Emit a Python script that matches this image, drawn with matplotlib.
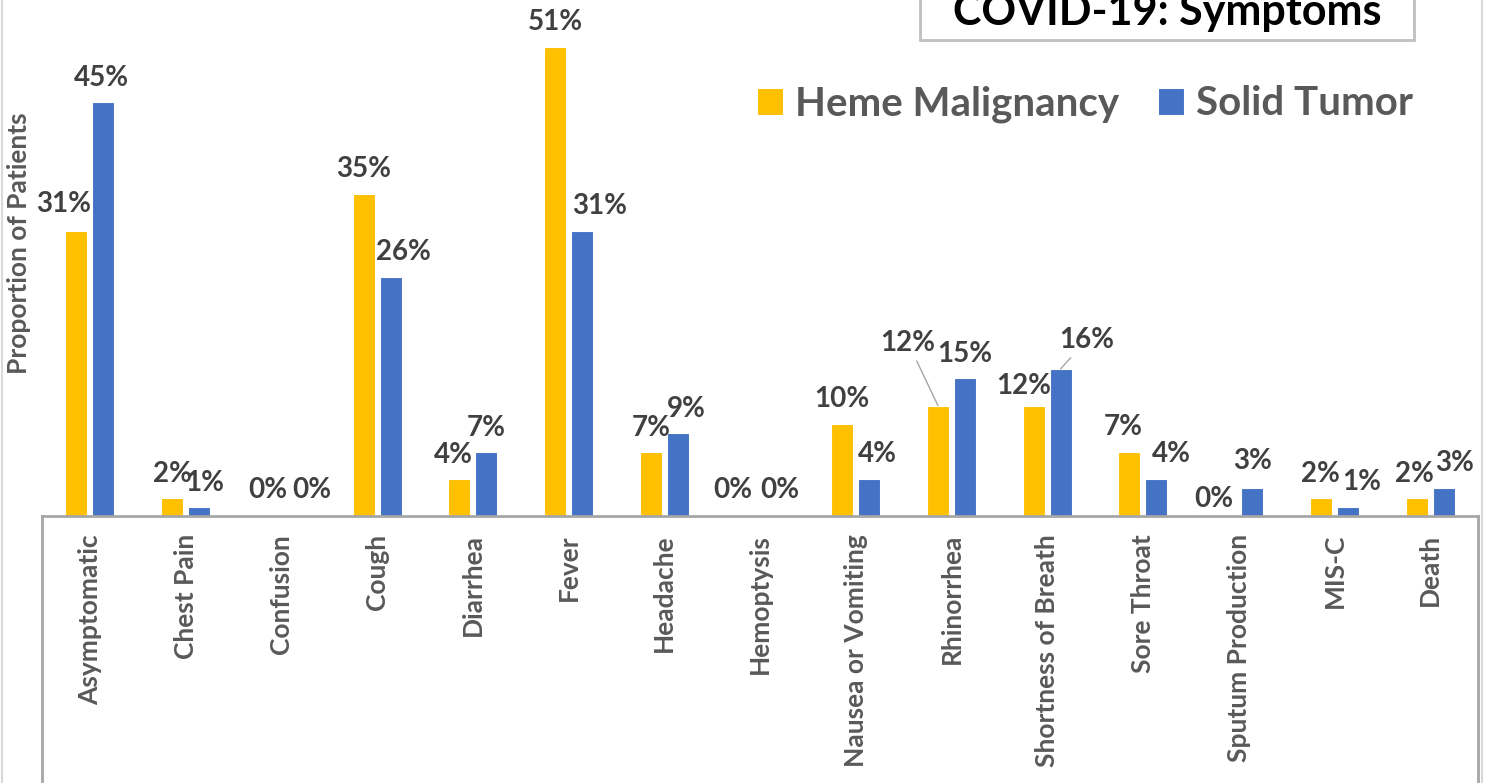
import numpy as np
import matplotlib
matplotlib.use("Agg")
import matplotlib.pyplot as plt
from matplotlib.lines import Line2D
from matplotlib.patches import Rectangle

plt.rcParams['font.family'] = ['Lato', 'DejaVu Sans']

# data
symptoms = ["Asymptomatic", "Chest Pain", "Confusion", "Cough", "Diarrhea", "Fever",
            "Headache", "Hemoptysis", "Nausea or Vomiting", "Rhinorrhea",
            "Shortness of Breath", "Sore Throat", "Sputum Production", "MIS-C", "Death"]
heme = [31, 2, 0, 35, 4, 51, 7, 0, 10, 12, 12, 7, 0, 2, 2]
solid = [45, 1, 0, 26, 7, 31, 9, 0, 4, 15, 16, 4, 3, 1, 3]
series_names = ["Heme Malignancy", "Solid Tumor"]

# label nudges in pixels (excel placed them by hand)
heme_dx = [-13, 0, 0, 0, -6, 0, 0, -14, 0, -30, -10, -6, -11, 0, -2]
heme_dy = [19, 16, 18, 17, 16, 17, 16, 18, 17, 55, 12, 17, 9, 16, 16]
solid_dx = [-2, 6, 17, 13, 0, 18, 9, 6, 8, 0, 26, 15, 0, 14, 11]
solid_dy = [16, 16, 18, 17, 16, 17, 16, 18, 17, 16, 21, 17, 19, 17, 17]

W, H = 1491, 783
fig = plt.figure(figsize=(W / 100, H / 100), dpi=100)

# axes placed in pixels
ax_left, ax_right, ax_base = 42, 1478, 516
ax = fig.add_axes([ax_left / W, (H - ax_base) / H, (ax_right - ax_left) / W, ax_base / H])

yellow = "#FFC000"
blue = "#4472C4"
x = np.arange(len(symptoms))
off = 0.141
bw = 0.23
ax.bar(x - off, heme, bw, color=yellow, edgecolor="white", linewidth=0.8, label=series_names[0])
ax.bar(x + off, solid, bw, color=blue, edgecolor="white", linewidth=0.8, label=series_names[1])

ax.set_xlim(-0.5, len(symptoms) - 0.5)
ax.set_ylim(0, ax_base / 9.2)
ax.set_yticks([])
ax.set_xticks(x)
ax.set_xticklabels(symptoms, rotation=90, fontsize=19, fontweight="bold", color="#595959",
                   va="top", ha="center")
ax.tick_params(axis="x", length=0, pad=13)
for s in ["top", "right", "left"]:
    ax.spines[s].set_visible(False)
ax.spines["bottom"].set_color("#A6A6A6")
ax.spines["bottom"].set_linewidth(2)

lab_col = "#404040"
px = 0.72
lead = dict(arrowstyle="-", color="#A6A6A6", lw=1, shrinkA=2, shrinkB=0)
for i in range(len(symptoms)):
    for vals, dxs, dys, xo in [(heme, heme_dx, heme_dy, -off), (solid, solid_dx, solid_dy, off)]:
        v = vals[i]
        kw = {}
        if (vals is heme and i == 9) or (vals is solid and i == 10):
            kw["arrowprops"] = lead
        ax.annotate(f"{v}%", xy=(i + xo, v), xytext=(dxs[i] * px, dys[i] * px),
                    textcoords="offset points", ha="center", va="baseline",
                    fontsize=20, fontweight="bold", color=lab_col, **kw)

# box lines under the category axis and outer frame
for xp in [ax_left, ax_right]:
    fig.add_artist(Line2D([xp / W, xp / W], [0, (H - ax_base) / H], color="#A6A6A6", lw=2))
for xp in [2, 1482]:
    fig.add_artist(Line2D([xp / W, xp / W], [0, 1], color="#D9D9D9", lw=1.5))

fig.text(19 / W, 1 - 243 / H, "Proportion of Patients", rotation=90, ha="center", va="center",
         fontsize=19, fontweight="bold", color="#595959")

# title box, cut at top edge
fig.add_artist(Rectangle((920 / W, 1 - 40 / H), (1414 - 920) / W, 60 / H,
                         transform=fig.transFigure, facecolor="white", edgecolor="#BFBFBF",
                         lw=2, clip_on=False))
fig.text(1167 / W, 1 - 25 / H, "COVID-19: Symptoms", ha="center", va="baseline",
         fontsize=31, fontweight="bold", color="black")

ax.legend(loc="center left", bbox_to_anchor=(741 / W, 1 - 104 / H), bbox_transform=fig.transFigure,
          borderaxespad=0, ncol=2, frameon=False, handlelength=0.65, handleheight=0.65,
          handletextpad=0.3, columnspacing=0.95, labelcolor="#595959",
          prop={"weight": "bold", "size": 29})

fig.savefig("out.png", dpi=100)
